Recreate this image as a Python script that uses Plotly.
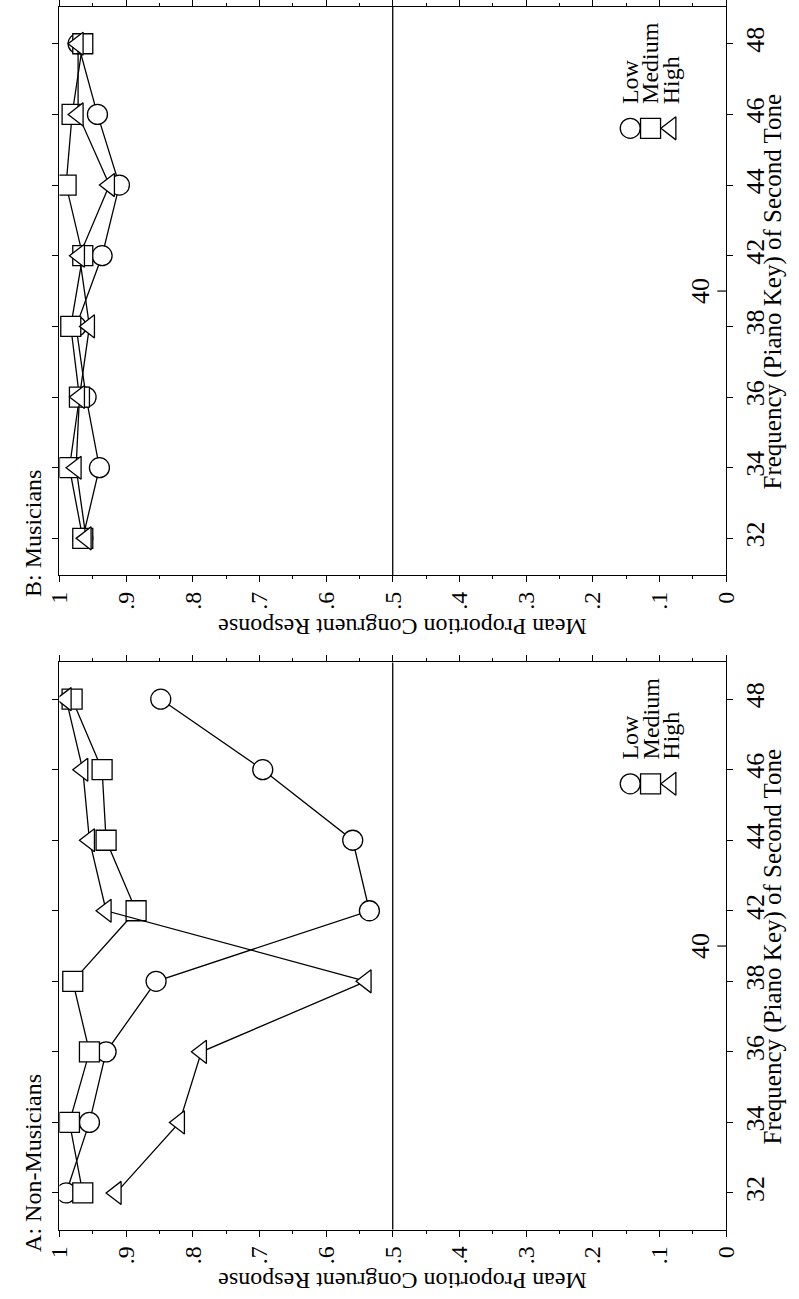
import plotly.graph_objects as go

# ---------------- data ----------------
freqs = ["32", "34", "36", "38", "42", "44", "46", "48"]
mid_label = "40"

a_low = [0.99, 0.955, 0.93, 0.855, 0.535, 0.56, 0.695, 0.848]
a_medium = [0.965, 0.985, 0.955, 0.98, 0.885, 0.93, 0.936, 0.981]
a_high = [0.915, 0.82, 0.787, 0.54, 0.93, 0.955, 0.965, 0.99]

b_low = [0.965, 0.94, 0.96, 0.975, 0.936, 0.91, 0.943, 0.972]
b_medium = [0.965, 0.985, 0.97, 0.983, 0.965, 0.99, 0.981, 0.965]
b_high = [0.96, 0.975, 0.97, 0.955, 0.97, 0.925, 0.972, 0.972]

series_names = ["Low", "Medium", "High"]
prop_ticks = [0, 0.1, 0.2, 0.3, 0.4, 0.5, 0.6, 0.7, 0.8, 0.9, 1.0]
prop_labels = ["0", ".1", ".2", ".3", ".4", ".5", ".6", ".7", ".8", ".9", "1"]

# ---------------- styling ----------------
W, H = 799, 1299
FONT = "Liberation Serif"
FS = 24
symbols = ["circle", "square", "triangle-left"]

def px(x):
    return x / W

def py(y):
    return 1 - y / H

fig = go.Figure()

panels = [
    # name, x axis, y axis, series, top px, bottom px
    ("A: Non-Musicians", "x", "y", [a_low, a_medium, a_high], 661.5, 1229.5),
    ("B: Musicians", "x2", "y2", [b_low, b_medium, b_high], 5, 574),
]

for title, xa, ya, series, top, bot in panels:
    for name, vals, sym in zip(series_names, series, symbols):
        fig.add_trace(go.Scatter(
            x=vals, y=freqs, xaxis=xa, yaxis=ya, mode="lines+markers",
            name=name, showlegend=False,
            line=dict(color="black", width=1.3),
            marker=dict(symbol=sym, size=20, color="white",
                        line=dict(color="black", width=1.3)),
        ))

axis_common_x = dict(
    range=[1, 0], tickmode="array", tickvals=prop_ticks, ticktext=prop_labels,
    tickangle=-90, ticks="outside", ticklen=6, tickwidth=1.2, tickcolor="black",
    showline=True, linecolor="black", linewidth=1.3, mirror="ticks",
    showgrid=False, zeroline=False,
    minor=dict(dtick=0.05, tick0=0, ticks="outside", ticklen=3,
               tickwidth=1.2, tickcolor="black", showgrid=False),
    tickfont=dict(family=FONT, size=FS, color="black"),
    domain=[px(48), px(737)],
)
axis_common_y = dict(
    type="category", categoryorder="array", categoryarray=freqs,
    range=[-0.52, len(freqs) - 1 + 0.52], side="right",
    tickangle=-90, ticks="outside", ticklen=6, tickwidth=1.2, tickcolor="black",
    showline=True, linecolor="black", linewidth=1.3, mirror="ticks",
    showgrid=False, zeroline=False,
    tickfont=dict(family=FONT, size=26, color="black"),
)

fig.update_layout(
    xaxis=dict(axis_common_x, anchor="y"),
    yaxis=dict(axis_common_y, anchor="x", domain=[py(1229.5), py(661.5)]),
    xaxis2=dict(axis_common_x, anchor="y2"),
    yaxis2=dict(axis_common_y, anchor="x2", domain=[py(574), py(5)]),
    xaxis3=dict(domain=[0, 1], range=[0, W], visible=False, anchor="y3", fixedrange=True),
    yaxis3=dict(domain=[0, 1], range=[H, 0], visible=False, anchor="x3", fixedrange=True),
)

annotations = []
shapes = []
legend_x = [638, 659, 680]
for (title, xa, ya, series, top, bot) in panels:
    yd = ya + " domain"
    # 0.5 reference line
    shapes.append(dict(type="line", xref=xa, yref=yd, x0=0.5, x1=0.5, y0=0, y1=1,
                       line=dict(color="black", width=1.3)))
    # "40" label inside the frequency axis
    annotations.append(dict(text=mid_label, xref="paper", yref=ya, x=px(727), y=3.5,
                            xanchor="right", yanchor="middle", textangle=-90,
                            showarrow=False, font=dict(family=FONT, size=26, color="black")))
    shapes.append(dict(type="line", xref="paper", yref=ya, x0=px(728), x1=px(738),
                       y0=3.5, y1=3.5, line=dict(color="black", width=1.2)))
    # panel title
    annotations.append(dict(text=title, xref="paper", yref="paper", x=px(20), y=py(bot + 24),
                            xanchor="center", yanchor="bottom", textangle=-90,
                            showarrow=False, font=dict(family=FONT, size=FS, color="black")))
    # frequency axis title
    annotations.append(dict(text="Frequency (Piano Key) of Second Tone", xref="paper", yref="paper",
                            x=px(786), y=py((top + bot) / 2), xanchor="center", yanchor="middle",
                            textangle=-90, showarrow=False,
                            font=dict(family=FONT, size=25, color="black")))
    # proportion axis title (upside down)
    annotations.append(dict(text="Mean Proportion Congruent Response", xref="paper", yref="paper",
                            x=px(402), y=py(bot + 52), xanchor="center", yanchor="middle",
                            textangle=180, showarrow=False,
                            font=dict(family=FONT, size=FS, color="black")))
    # legend
    ly = top + 121.5
    for name, sym, lx in zip(series_names, symbols, legend_x):
        fig.add_trace(go.Scatter(
            x=[lx], y=[ly], xaxis="x3", yaxis="y3", mode="markers", showlegend=False,
            hoverinfo="skip",
            marker=dict(symbol=sym, size=20, color="white",
                        line=dict(color="black", width=1.3)),
        ))
        annotations.append(dict(text=name, xref="paper", yref="paper", x=px(lx), y=py(ly - 22),
                                xanchor="center", yanchor="bottom", textangle=-90,
                                showarrow=False, font=dict(family=FONT, size=FS, color="black")))

fig.update_layout(
    width=W, height=H, margin=dict(l=0, r=0, t=0, b=0),
    paper_bgcolor="white", plot_bgcolor="rgba(0,0,0,0)",
    annotations=annotations, shapes=shapes, showlegend=False,
    font=dict(family=FONT, size=FS, color="black"),
)

fig.write_html("out.html")
